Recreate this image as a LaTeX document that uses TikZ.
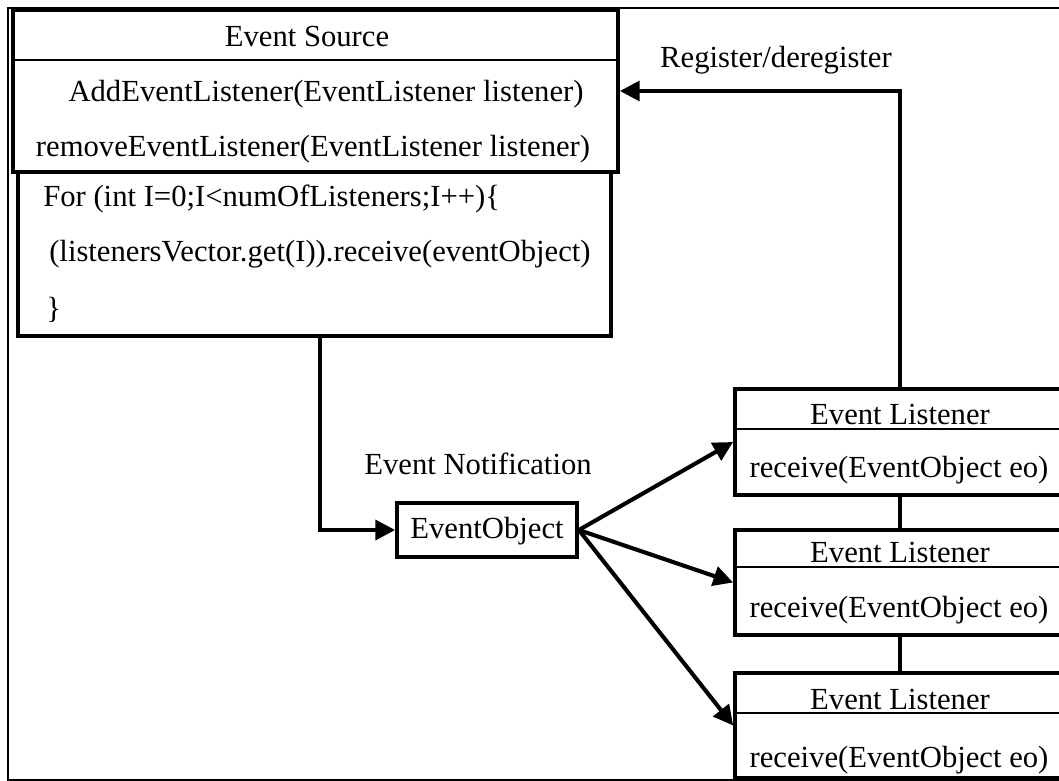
\documentclass[tikz,border=0pt]{standalone}
\usepackage{fontspec}
\setmainfont{Liberation Serif}
\usetikzlibrary{arrows.meta}

\begin{document}
\begin{tikzpicture}[x=0.025cm,y=-0.025cm,
  box/.style={draw,line width=2.6pt,inner sep=0pt},
  txt/.style={inner sep=0pt,text height=16pt,text depth=3.3pt,font=\fontsize{21.8}{26}\selectfont},
  divider/.style={line width=1.1pt},
  conn/.style={line width=2.9pt},
  arr/.style={conn,-{Triangle[length=14pt,width=14pt]}}]
\useasboundingbox (0,0) rectangle (1059,781);
\clip (0,0) rectangle (1059,781);
\draw[line width=1pt] (8,8) rectangle (1070,780);
% event source
\node[box,minimum width=15.125cm,minimum height=4.05cm] (src) at (315.5,91) {};
\draw[divider] (src.west |- 0,60) -- (src.east |- 0,60);
\node[txt] (srcname) at (307,38) {Event Source};
\node[txt] (add) at (326,93) {AddEventListener(EventListener listener)};
\node[txt] (remove) at (313,148) {removeEventListener(EventListener listener)};
\node[box,minimum width=14.825cm,minimum height=4.1cm] (loop) at (314.5,254) {};
\node[txt,anchor=west] (for) at (43,198) {For (int I=0;I<numOfListeners;I++)\{};
\node[txt,anchor=west] (call) at (49,253) {(listenersVector.get(I)).receive(eventObject)};
\node[txt,anchor=west] (close) at (46,310) {\}};
% event object
\node[box,txt,line width=2.6pt,minimum width=4.5cm,minimum height=1.35cm] (eo) at (487,530) {EventObject};
\node[txt] (notify) at (478,466) {Event Notification};
% listeners
\node[box,minimum width=8.25cm,minimum height=2.65cm] (l1) at (900,442) {};
\draw[divider] (l1.west |- 0,429) -- (l1.east |- 0,429);
\node[txt] (l1name) at (900,416) {Event Listener};
\node[txt] (l1recv) at (899,469) {receive(EventObject eo)};
\node[box,minimum width=8.25cm,minimum height=2.625cm] (l2) at (900,582.5) {};
\draw[divider] (l2.west |- 0,567) -- (l2.east |- 0,567);
\node[txt] (l2name) at (900,554) {Event Listener};
\node[txt] (l2recv) at (899,609) {receive(EventObject eo)};
\node[box,minimum width=8.25cm,minimum height=2.625cm] (l3) at (900,725.5) {};
\draw[divider] (l3.west |- 0,713) -- (l3.east |- 0,713);
\node[txt] (l3name) at (900,701) {Event Listener};
\node[txt] (l3recv) at (899,759) {receive(EventObject eo)};
% connectors
\draw[arr] ([xshift=0.14cm]loop.south) |- (eo.west);
\draw[arr] (eo.east) -- (l1.west);
\draw[arr] (eo.east) -- (l2.west);
\draw[arr] (eo.east) -- (l3.west);
\draw[conn] (l1.south) -- (l2.north);
\draw[conn] (l2.south) -- (l3.north);
\draw[arr] (l1.north) |- (src.east);
\node[txt] (reg) at (776,59) {Register/deregister};
\end{tikzpicture}
\end{document}
